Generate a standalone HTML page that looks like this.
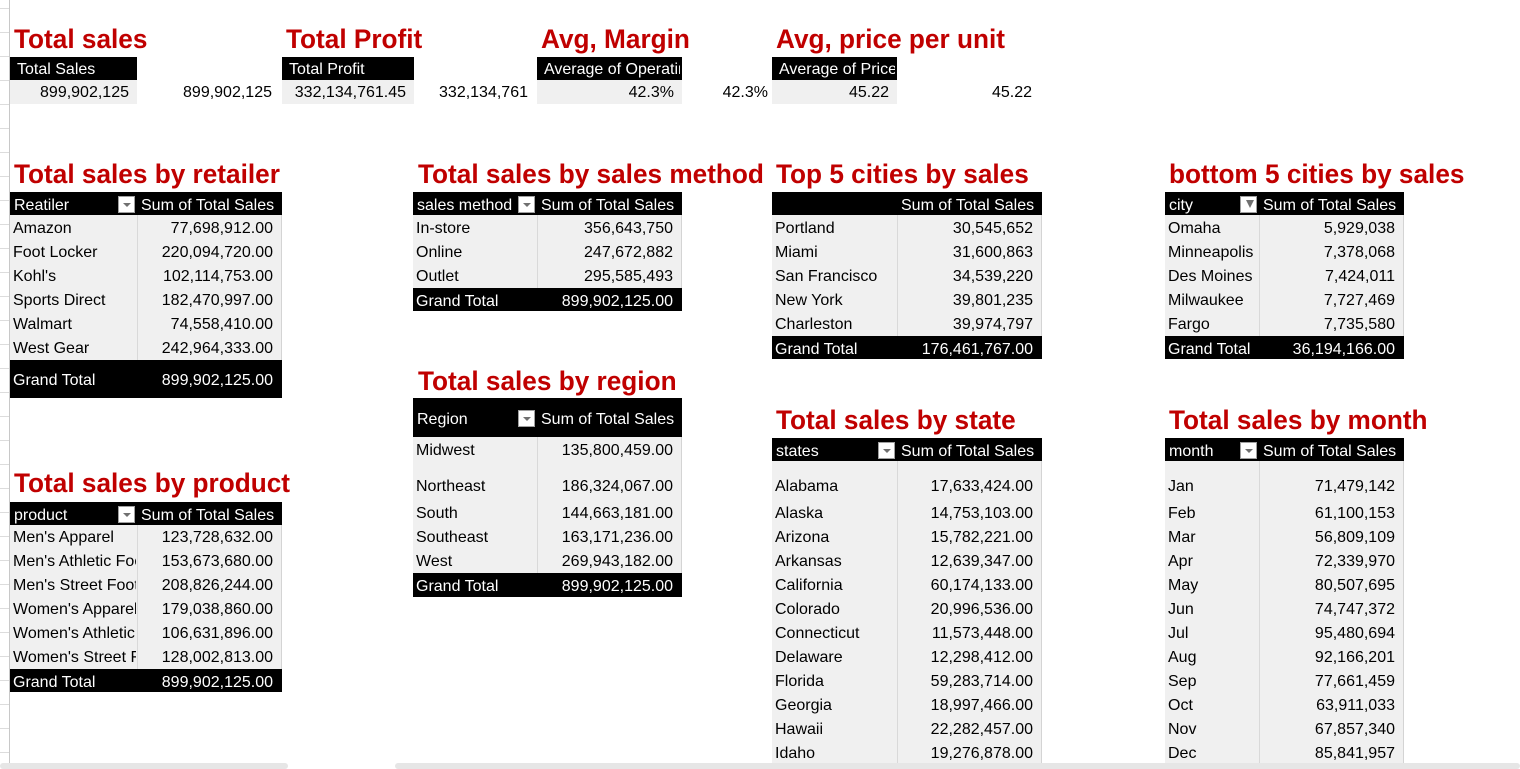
<!DOCTYPE html>
<html><head><meta charset="utf-8">
<style>
html,body{margin:0;padding:0;width:1520px;height:769px;overflow:hidden;background:#fff;font-family:"Liberation Sans",Arial,sans-serif;}
#sheet{position:relative;width:1520px;height:769px;}
.abs{position:absolute;}
.title{position:absolute;color:#c00000;font-weight:bold;font-size:27px;line-height:30px;white-space:nowrap;transform:scaleX(0.97);transform-origin:left center;}
.txt{position:absolute;font-size:16px;line-height:20px;white-space:nowrap;overflow:hidden;color:#000;}
.blk{background:#000;}
.gry{background:#f0f0f0;}
.w{color:#fff;}
.r{text-align:right;}
.btn{position:absolute;width:17px;height:17px;background:#fff;border:1px solid #a0a0a0;box-sizing:border-box;}
.btn::after{content:"";position:absolute;left:4px;top:6px;border-left:4px solid transparent;border-right:4px solid transparent;border-top:4px solid #707070;}
.btn.f::after{left:5px;top:3px;border-left:4px solid transparent;border-right:4px solid transparent;border-top:8px solid #707070;}
</style></head>
<body>
<div id="sheet"></div>
<script>
const sheet=document.getElementById('sheet');
function el(cls,x,y,w,h,text){
  const d=document.createElement('div');
  d.className=cls;
  d.style.left=x+'px';d.style.top=y+'px';
  if(w!=null)d.style.width=w+'px';
  if(h!=null)d.style.height=h+'px';
  if(text!=null)d.textContent=text;
  sheet.appendChild(d);
  return d;
}
// gutter
let g=el('abs',9,0,1,769);g.style.background='#c8c8c8';


for(let y=8;y<769;y+=24){const l=el('abs',0,y,9,1);l.style.background='#dcdcdc';

}

function title(x,cy,text,name){
  const t=el('title',x,cy-15,null,null,text);
  
  
}
function text(cls,x,cy,w,t,name){
  const d=el('txt '+cls,x,cy-9,w,null,t);
  
  
  return d;
}
// KPI cards
const kpiTitles=['Total sales','Total Profit','Avg, Margin','Avg, price per unit'];
const kpiTitleX=[14,286,541,776];
const kpiHeaders=['Total Sales','Total Profit','Average of Operating Margin','Average of Price'];
const kpiPivot=['899,902,125','332,134,761.45','42.3%','45.22'];
const kpiPlain=['899,902,125','332,134,761','42.3%','45.22'];
const kpiX=[[10,137],[282,414],[537,682],[772,897]];
const kpiPlainRight=[272,528,768,1032];
kpiTitles.forEach((t,i)=>{
  title(kpiTitleX[i],39,t,'kpi-title');
  const [a,b]=kpiX[i];
  const h=el('abs blk',a,57,b-a,23);
  
  
  text('w',a+7,69,b-a-9,kpiHeaders[i],'kpi-header-label');
  const v=el('abs gry',a,80,b-a,24);
  
  
  text('r',a,92,b-a-8,kpiPivot[i],'kpi-value');
  text('r',kpiPlainRight[i]-140,92,140,kpiPlain[i],'kpi-linked-value');
});

function table(o){
  const {x,split,end,hTop,hH,rows,bodyTop,bodyBot,gtTop,gtH,h1,btn,name}=o;
  const hd=el('abs blk',x,hTop,end-x,hH);
  
  
  const hc=hTop+hH/2+1;
  text('w',x+4,hc,split-x-6,h1,name+'-row-label-header');
  text('w',split+4,hc,end-split-6,'Sum of Total Sales',name+'-value-header');
  if(btn){const b=el('btn'+(btn==='f'?' f':''),split-19,hc-9);
    
    }
  const bd=el('abs gry',x,bodyTop,end-x,bodyBot-bodyTop);
  bd.style.borderRight='1px solid #d4d4d4';bd.style.boxSizing='border-box';
  
  
  const sp=el('abs',split,bodyTop,1,bodyBot-bodyTop);sp.style.background='#d9d9d9';
  
  
  rows.forEach(r=>{
    text('',x+3,r[2],split-x-4,r[0],name+'-row-label');
    text('r',split,r[2],end-split-9,r[1],name+'-row-value');
  });
  if(gtTop!=null){
    const gt=el('abs blk',x,gtTop,end-x,gtH);
    
    
    const c=gtTop+gtH/2+1;
    text('w',x+3,c,split-x-4,'Grand Total',name+'-grand-total-label');
    text('w r',split,c,end-split-9,o.gt,name+'-grand-total-value');
  }
}
const cy=(start,n)=>Array.from({length:n},(_,i)=>start+24*i);
function rowsOf(labels,vals,ys){return labels.map((l,i)=>[l,vals[i],ys[i]]);}

const retailers=['Amazon','Foot Locker',"Kohl's",'Sports Direct','Walmart','West Gear'];
const retailerSales=['77,698,912.00','220,094,720.00','102,114,753.00','182,470,997.00','74,558,410.00','242,964,333.00'];
title(14,174,'Total sales by retailer','retailer-title');
table({name:'retailer',x:10,split:137,end:282,hTop:192,hH:23,h1:'Reatiler',btn:1,bodyTop:215,bodyBot:360,
  rows:rowsOf(retailers,retailerSales,cy(228,6)),gtTop:360,gtH:38,gt:'899,902,125.00'});

const methods=['In-store','Online','Outlet'];
const methodSales=['356,643,750','247,672,882','295,585,493'];
title(418,174,'Total sales by sales method','sales-method-title');
table({name:'sales-method',x:413,split:537,end:682,hTop:192,hH:23,h1:'sales method',btn:1,bodyTop:215,bodyBot:288,
  rows:rowsOf(methods,methodSales,cy(228,3)),gtTop:288,gtH:23,gt:'899,902,125.00'});

const topCities=['Portland','Miami','San Francisco','New York','Charleston'];
const topSales=['30,545,652','31,600,863','34,539,220','39,801,235','39,974,797'];
title(776,174,'Top 5 cities by sales','top-cities-title');
table({name:'top-cities',x:772,split:897,end:1042,hTop:192,hH:23,h1:'',btn:0,bodyTop:215,bodyBot:336,
  rows:rowsOf(topCities,topSales,cy(228,5)),gtTop:336,gtH:23,gt:'176,461,767.00'});

const botCities=['Omaha','Minneapolis','Des Moines','Milwaukee','Fargo'];
const botSales=['5,929,038','7,378,068','7,424,011','7,727,469','7,735,580'];
title(1169,174,'bottom 5 cities by sales','bottom-cities-title');
table({name:'bottom-cities',x:1165,split:1259,end:1404,hTop:192,hH:23,h1:'city',btn:'f',bodyTop:215,bodyBot:336,
  rows:rowsOf(botCities,botSales,cy(228,5)),gtTop:336,gtH:23,gt:'36,194,166.00'});

const products=["Men's Apparel","Men's Athletic Footwear","Men's Street Footwear","Women's Apparel","Women's Athletic Footwear","Women's Street Footwear"];
const productSales=['123,728,632.00','153,673,680.00','208,826,244.00','179,038,860.00','106,631,896.00','128,002,813.00'];
title(14,483,'Total sales by product','product-title');
table({name:'product',x:10,split:137,end:282,hTop:502,hH:23,h1:'product',btn:1,bodyTop:525,bodyBot:669,
  rows:rowsOf(products,productSales,cy(537,6)),gtTop:669,gtH:23,gt:'899,902,125.00'});

const regions=['Midwest','Northeast','South','Southeast','West'];
const regionSales=['135,800,459.00','186,324,067.00','144,663,181.00','163,171,236.00','269,943,182.00'];
title(418,381,'Total sales by region','region-title');
table({name:'region',x:413,split:537,end:682,hTop:398,hH:39,h1:'Region',btn:1,bodyTop:437,bodyBot:573,
  rows:rowsOf(regions,regionSales,[450,486,513,537,561]),gtTop:573,gtH:24,gt:'899,902,125.00'});

const states=['Alabama','Alaska','Arizona','Arkansas','California','Colorado','Connecticut','Delaware','Florida','Georgia','Hawaii','Idaho'];
const stateSales=['17,633,424.00','14,753,103.00','15,782,221.00','12,639,347.00','60,174,133.00','20,996,536.00','11,573,448.00','12,298,412.00','59,283,714.00','18,997,466.00','22,282,457.00','19,276,878.00'];
const listY=[486].concat(cy(513,11));
title(776,420,'Total sales by state','state-title');
table({name:'state',x:772,split:897,end:1042,hTop:438,hH:23,h1:'states',btn:1,bodyTop:461,bodyBot:769,
  rows:rowsOf(states,stateSales,listY)});

const months=['Jan','Feb','Mar','Apr','May','Jun','Jul','Aug','Sep','Oct','Nov','Dec'];
const monthSales=['71,479,142','61,100,153','56,809,109','72,339,970','80,507,695','74,747,372','95,480,694','92,166,201','77,661,459','63,911,033','67,857,340','85,841,957'];
title(1169,420,'Total sales by month','month-title');
table({name:'month',x:1165,split:1259,end:1404,hTop:438,hH:23,h1:'month',btn:1,bodyTop:461,bodyBot:769,
  rows:rowsOf(months,monthSales,listY)});

// scrollbars (on top)
let s1=el('abs',0,763,288,6);s1.style.background='#e6e6e6';s1.style.borderRadius='3px';


let s2=el('abs',395,763,1125,6);s2.style.background='#e6e6e6';s2.style.borderRadius='3px';


</script>
</body></html>
